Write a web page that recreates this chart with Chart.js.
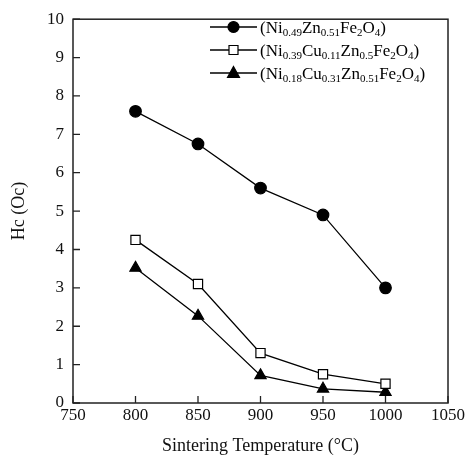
<!DOCTYPE html>
<html>
<head>
<meta charset="utf-8">
<script src="https://cdn.jsdelivr.net/npm/chart.js@4"></script>
<style>
html,body{margin:0;padding:0;background:#fff;}
#wrap{width:471px;height:456px;position:relative;}
</style>
</head>
<body>
<div id="wrap"><canvas id="c" width="471" height="456"></canvas></div>
<script>
const temperatures = [800, 850, 900, 950, 1000];
const seriesNiZn = [7.6, 6.75, 5.6, 4.9, 3.0];
const seriesCu011 = [4.25, 3.1, 1.3, 0.75, 0.5];
const seriesCu031 = [3.52, 2.27, 0.72, 0.37, 0.28];
const xTicks = [750, 800, 850, 900, 950, 1000, 1050];
const yTicks = [0, 1, 2, 3, 4, 5, 6, 7, 8, 9, 10];
// legend labels as [text, isSubscript] parts
const legendNiZn = [["(Ni",0],["0.49",1],["Zn",0],["0.51",1],["Fe",0],["2",1],["O",0],["4",1],[")",0]];
const legendCu011 = [["(Ni",0],["0.39",1],["Cu",0],["0.11",1],["Zn",0],["0.5",1],["Fe",0],["2",1],["O",0],["4",1],[")",0]];
const legendCu031 = [["(Ni",0],["0.18",1],["Cu",0],["0.31",1],["Zn",0],["0.51",1],["Fe",0],["2",1],["O",0],["4",1],[")",0]];

const FONT = "'Liberation Serif', 'Times New Roman', serif";

function pts(arr){ return temperatures.map((t,i)=>({x:t,y:arr[i]})); }

const datasets = [
  {data: pts(seriesNiZn), pointStyle:'circle', pointRadius:5.8, pointBackgroundColor:'#000', legendParts: legendNiZn},
  {data: pts(seriesCu011), pointStyle:'rect', pointRadius:6.5, pointBackgroundColor:'#fff', legendParts: legendCu011},
  {data: pts(seriesCu031), pointStyle:'triangle', pointRadius:6.5, pointBackgroundColor:'#000', legendParts: legendCu031}
].map(d=>Object.assign({borderColor:'#000', borderWidth:1.3, pointBorderColor:'#000', pointBorderWidth:1.2, fill:false, tension:0, showLine:true}, d));

const framePlugin = {
  id:'frame',
  afterDraw(chart){
    const {ctx, chartArea:a, scales} = chart;
    ctx.save();
    ctx.strokeStyle = '#222';
    ctx.lineWidth = 1.5;
    ctx.strokeRect(a.left, a.top, a.right-a.left, a.bottom-a.top);
    ctx.lineWidth = 1.3;
    ctx.beginPath();
    xTicks.forEach(v=>{ const x = scales.x.getPixelForValue(v); ctx.moveTo(x, a.bottom); ctx.lineTo(x, a.bottom-7); });
    yTicks.forEach(v=>{ const y = scales.y.getPixelForValue(v); ctx.moveTo(a.left, y); ctx.lineTo(a.left+7, y); });
    ctx.stroke();
    // legend
    const lx0 = 210, lx1 = 257, tx = 260;
    const rows = [27, 50, 73];
    chart.data.datasets.forEach((ds, i)=>{
      const y = rows[i];
      ctx.strokeStyle = '#000'; ctx.lineWidth = 1.3;
      ctx.beginPath(); ctx.moveTo(lx0, y); ctx.lineTo(lx1, y); ctx.stroke();
      const mx = (lx0+lx1)/2;
      ctx.fillStyle = ds.pointBackgroundColor; ctx.lineWidth = 1.2;
      ctx.beginPath();
      if (ds.pointStyle === 'circle') { ctx.arc(mx, y, 5.5, 0, Math.PI*2); }
      else if (ds.pointStyle === 'rect') { ctx.rect(mx-4.5, y-4.5, 9, 9); }
      else { ctx.moveTo(mx, y-6.5); ctx.lineTo(mx+6, y+4.5); ctx.lineTo(mx-6, y+4.5); ctx.closePath(); }
      ctx.fill(); ctx.stroke();
      let x = tx;
      ctx.fillStyle = '#000';
      ctx.textBaseline = 'alphabetic';
      ds.legendParts.forEach(([t, sub])=>{
        ctx.font = (sub ? '11px ' : '17px ') + FONT;
        ctx.fillText(t, x, sub ? y + 9 : y + 6);
        x += ctx.measureText(t).width;
      });
    });
    ctx.restore();
  }
};

new Chart(document.getElementById('c'), {
  type: 'scatter',
  data: { datasets },
  options: {
    responsive: false,
    animation: false,
    events: [],
    layout: { padding: { top: 7, right: 23, left: 0, bottom: 0 } },
    plugins: { legend: { display: false }, tooltip: { enabled: false } },
    scales: {
      x: {
        type: 'linear', min: 750, max: 1050,
        afterBuildTicks: s => { s.ticks = xTicks.map(v=>({value:v})); },
        afterFit: s => { s.height = 53; },
        grid: { display: false, drawTicks: false },
        border: { display: false },
        ticks: { color: '#111', font: { family: FONT, size: 17 }, padding: 2, maxRotation: 0, autoSkip: false, callback: v => String(v) },
        title: { display: true, text: 'Sintering Temperature (°C)', color: '#111', font: { family: FONT, size: 18, lineHeight: 1 }, padding: { top: 0, bottom: 1 } }
      },
      y: {
        type: 'linear', min: 0, max: 10,
        afterBuildTicks: s => { s.ticks = yTicks.map(v=>({value:v})); },
        afterFit: s => { s.width = 73; },
        grid: { display: false, drawTicks: false },
        border: { display: false },
        ticks: { color: '#111', font: { family: FONT, size: 17 }, padding: 9, autoSkip: false, callback: v => String(v) },
        title: { display: true, text: 'Hc (Oc)', color: '#111', font: { family: FONT, size: 18 }, padding: { top: 8, bottom: 0 } }
      }
    }
  },
  plugins: [framePlugin]
});
</script>
</body>
</html>
